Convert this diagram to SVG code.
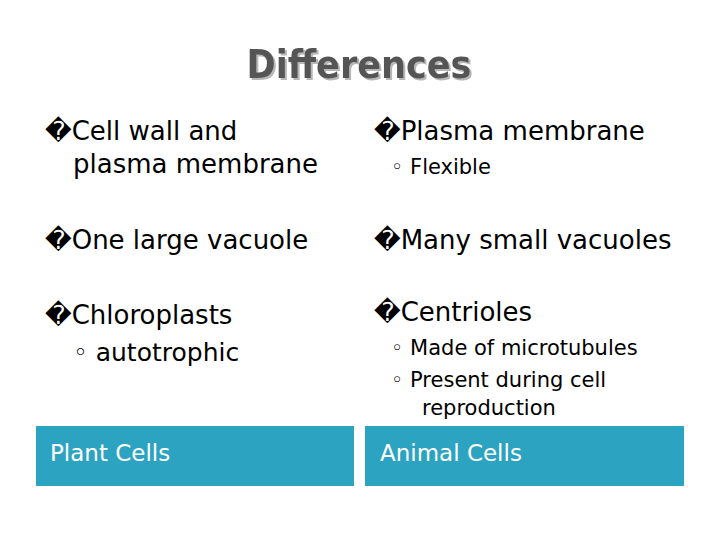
<svg xmlns="http://www.w3.org/2000/svg" width="720" height="540" viewBox="0 0 720 540">
<defs><filter id="sh" x="-10%" y="-20%" width="120%" height="150%"><feDropShadow dx="2" dy="2" stdDeviation="0.6" flood-color="#999" flood-opacity="0.7"/></filter></defs>
<style>
.t{font-family:"DejaVu Sans",sans-serif;fill:#000}
.b{font-size:26px}
.s{font-size:21px}
.h{font-family:"DejaVu Sans Condensed","DejaVu Sans",sans-serif;font-weight:bold;font-size:39px}
.bx{fill:#2ca3c1}
.w{font-family:"DejaVu Sans",sans-serif;font-size:23px;fill:#fff}
</style>
<rect width="720" height="540" fill="#fff"/>
<text class="h" x="359" y="78" text-anchor="middle" fill="#555" filter="url(#sh)">Differences</text>
<g id="left">
<text class="t b" x="45" y="140">�Cell wall and</text>
<text class="t b" x="73" y="173">plasma membrane</text>
<text class="t b" x="45" y="249">�One large vacuole</text>
<text class="t b" x="45" y="324">�Chloroplasts</text>
<text class="t b" x="73" y="361" style="font-size:25px">◦ autotrophic</text>
</g>
<g id="right">
<text class="t b" x="374" y="140">�Plasma membrane</text>
<text class="t s" x="391" y="174" fill="#444">◦ Flexible</text>
<text class="t b" x="374" y="249">�Many small vacuoles</text>
<text class="t b" x="374" y="321">�Centrioles</text>
<text class="t s" x="391" y="355">◦ Made of microtubules</text>
<text class="t s" x="391" y="387">◦ Present during cell</text>
<text class="t s" x="422" y="415">reproduction</text>
</g>
<g id="plant"><rect class="bx" x="36" y="426" width="318" height="60"/><text class="w" x="50" y="461">Plant Cells</text></g>
<g id="animal"><rect class="bx" x="365" y="426" width="319" height="60"/><text class="w" x="380" y="461">Animal Cells</text></g>
</svg>
